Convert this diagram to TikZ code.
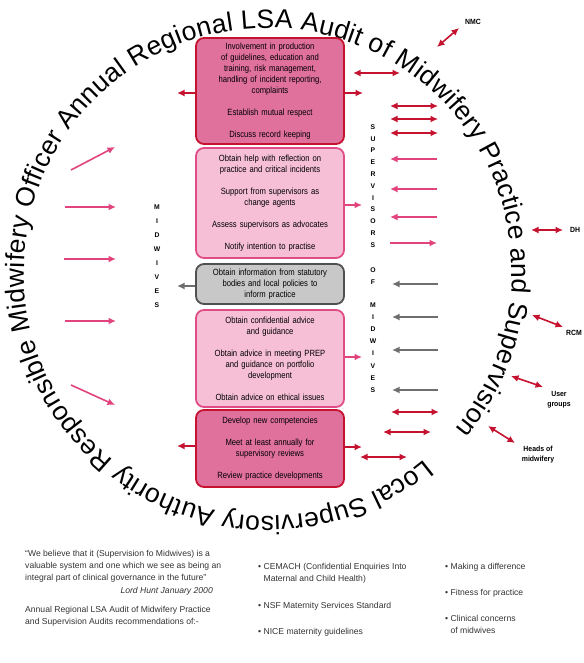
\documentclass[tikz,border=0pt]{standalone}
\usepackage{fontspec}
\setmainfont{Liberation Sans}
\newfontfamily\boxfont[FakeStretch=0.85]{Liberation Sans}
\newfontfamily\labfont[FakeStretch=0.92]{Liberation Sans}
\usetikzlibrary{arrows.meta,decorations.text}
\definecolor{dred}{HTML}{C5122F}
\definecolor{hpink}{HTML}{E2437D}
\definecolor{garr}{HTML}{6E6E6E}
\definecolor{rosefill}{HTML}{E0709C}
\definecolor{pfill}{HTML}{F6BFD5}
\definecolor{pborder}{HTML}{E04C86}
\definecolor{gfill}{HTML}{C8C8C8}
\definecolor{gborder}{HTML}{505050}
\definecolor{txt}{HTML}{333333}
\newcommand{\arcfont}{\fontsize{26.5}{26.5}\selectfont}
\begin{document}
\begin{tikzpicture}[x=1pt,y=-1pt,
  boxbase/.style={rounded corners=8pt, line width=1.8pt, minimum width=148pt, text width=144pt, inner sep=0pt, align=center, font=\boxfont\fontsize{9}{11}\selectfont},
  redbox/.style={boxbase, draw=dred, fill=rosefill},
  pinkbox/.style={boxbase, draw=pborder, fill=pfill},
  graybox/.style={boxbase, draw=gborder, fill=gfill},
  redarr/.style={draw=dred, line width=1.6pt, -{Latex[length=7.5pt,width=7pt]}},
  reddbl/.style={draw=dred, line width=1.6pt, {Latex[length=7.5pt,width=7pt]}-{Latex[length=7.5pt,width=7pt]}},
  pinkarr/.style={draw=hpink, line width=1.6pt, -{Latex[length=7.5pt,width=7pt]}},
  grayarr/.style={draw=garr, line width=1.6pt, -{Latex[length=7.5pt,width=7pt]}},
  vlet/.style={font=\fontsize{6.8}{7}\selectfont\bfseries, inner sep=0pt},
  lab/.style={font=\labfont\bfseries\fontsize{7.5}{9.5}\selectfont, inner sep=0pt, align=center},
  btxt/.style={font=\fontsize{8.6}{12}\selectfont, text=txt, inner sep=0pt, anchor=base west}
]
\useasboundingbox (0,0) rectangle (583,663);

% circular title
\path[decorate, decoration={text along path, text align={fit to path},
  text={|\arcfont|Local Supervisory Authority Responsible Midwifery Officer Annual Regional LSA Audit of Midwifery Practice and Supervision}}]
  (268,272) ++(50:244) arc[start angle=50, end angle=400, radius=244];

% boxes
\node[redbox, minimum height=106pt] (b1) at (270,91) {Involvement in production\\of guidelines, education and\\training, risk management,\\handling of incident reporting,\\complaints\\[11pt]Establish mutual respect\\[11pt]Discuss record keeping};
\node[pinkbox, minimum height=110pt] (b2) at (270,203) {Obtain help with reflection on\\practice and critical incidents\\[11pt]Support from supervisors as\\change agents\\[11pt]Assess supervisors as advocates\\[11pt]Notify intention to practise};
\node[graybox, minimum height=40pt] (g3) at (270,284) {Obtain information from statutory\\bodies and local policies to\\inform practice};
\node[pinkbox, minimum height=97pt] (b4) at (270,358.5) {Obtain confidential advice\\and guidance\\[11pt]Obtain advice in meeting PREP\\and guidance on portfolio\\development\\[11pt]Obtain advice on ethical issues};
\node[redbox, minimum height=77pt] (b5) at (270,448.5) {Develop new competencies\\[11pt]Meet at least annually for\\supervisory reviews\\[11pt]Review practice developments};

% arrows attached to boxes
\coordinate (e1l) at (177,93);
\draw[redarr] (b1.west |- e1l) -- (e1l);
\coordinate (e1r) at (363,93);
\draw[redarr] (b1.east |- e1r) -- (e1r);
\coordinate (e2r) at (362,205);
\draw[pinkarr] (b2.east |- e2r) -- (e2r);
\coordinate (e3l) at (177,286);
\draw[grayarr] (g3.west |- e3l) -- (e3l);
\coordinate (e4r) at (362,357);
\draw[pinkarr] (b4.east |- e4r) -- (e4r);
\coordinate (e5l) at (177,446);
\draw[redarr] (b5.west |- e5l) -- (e5l);
\coordinate (e5r) at (362,447);
\draw[redarr] (b5.east |- e5r) -- (e5r);

% red double arrows
\foreach \n/\xa/\ya/\xb/\yb in {d1/353/73/400/73, d2/390/106/438/106, d3/390/119/438/119, d4/390/133/438/133, d5/391/412/439/412, d6/383/432/431/432, d7/360/457/407/457, nm/437/47/459/28, dh/531/230/563/230, rc/532/315/563/327, ug/511/376/543/387, hm/488/426/515/443} {
  \coordinate (\n a) at (\xa,\ya);
  \coordinate (\n b) at (\xb,\yb);
  \draw[reddbl] (\n a) -- (\n b);
}

% pink arrows
\foreach \n/\xa/\ya/\xb/\yb in {p1/437/159/390/159, p2/437/189/390/189, p3/437/217/390/217, p4/390/243/437/243,
  q1/71/170/115/147, q2/65/207/116/207, q3/64/259/116/259, q4/65/321/116/321, q5/71/385/115/405} {
  \coordinate (\n a) at (\xa,\ya);
  \coordinate (\n b) at (\xb,\yb);
  \draw[pinkarr] (\n a) -- (\n b);
}

% gray arrows
\foreach \n/\y in {g1/284, g2/317, g4/350, g5/390} {
  \coordinate (\n a) at (438,\y);
  \coordinate (\n b) at (392,\y);
  \draw[grayarr] (\n a) -- (\n b);
}

% vertical words
\foreach \l [count=\i] in {M,I,D,W,I,V,E,S}
  \node[vlet] (mw\i) at (157,{207+14*(\i-1)}) {\l};
\foreach \l [count=\i] in {S,U,P,E,R,V,I,S,O,R,S}
  \node[vlet] (sv\i) at (373,{127+11.8*(\i-1)}) {\l};
\node[vlet] (of1) at (373,270) {O};
\node[vlet] (of2) at (373,282) {F};
\foreach \l [count=\i] in {M,I,D,W,I,V,E,S}
  \node[vlet] (sm\i) at (373,{305+12.14*(\i-1)}) {\l};

% outside labels
\node[lab] (nmc) at (473,22) {NMC};
\node[lab] (dhl) at (575,230) {DH};
\node[lab] (rcm) at (574,333) {RCM};
\node[lab] (usr) at (559,399.5) {User\\groups};
\node[lab] (hds) at (538,454.5) {Heads of\\midwifery};

% bottom text
\node[btxt] (t1) at (25,556) {“We believe that it (Supervision fo Midwives) is a};
\node[btxt] (t2) at (25,568) {valuable system and one which we see as being an};
\node[btxt] (t3) at (25,580) {integral part of clinical governance in the future”};
\node[btxt, anchor=base east] (t4) at (213,593) {\itshape Lord Hunt January 2000};
\node[btxt] (t5) at (25,612) {Annual Regional LSA Audit of Midwifery Practice};
\node[btxt] (t6) at (25,624) {and Supervision Audits recommendations of:-};

\node[btxt] (c1) at (258,569) {\textbullet\ CEMACH (Confidential Enquiries Into};
\node[btxt] (c2) at (258,581) {\phantom{\textbullet\ }Maternal and Child Health)};
\node[btxt] (c3) at (258,608) {\textbullet\ NSF Maternity Services Standard};
\node[btxt] (c4) at (258,634) {\textbullet\ NICE maternity guidelines};

\node[btxt] (m1) at (445,569) {\textbullet\ Making a difference};
\node[btxt] (m2) at (445,595) {\textbullet\ Fitness for practice};
\node[btxt] (m3) at (445,621) {\textbullet\ Clinical concerns};
\node[btxt] (m4) at (445,633) {\phantom{\textbullet\ }of midwives};
\end{tikzpicture}
\end{document}
